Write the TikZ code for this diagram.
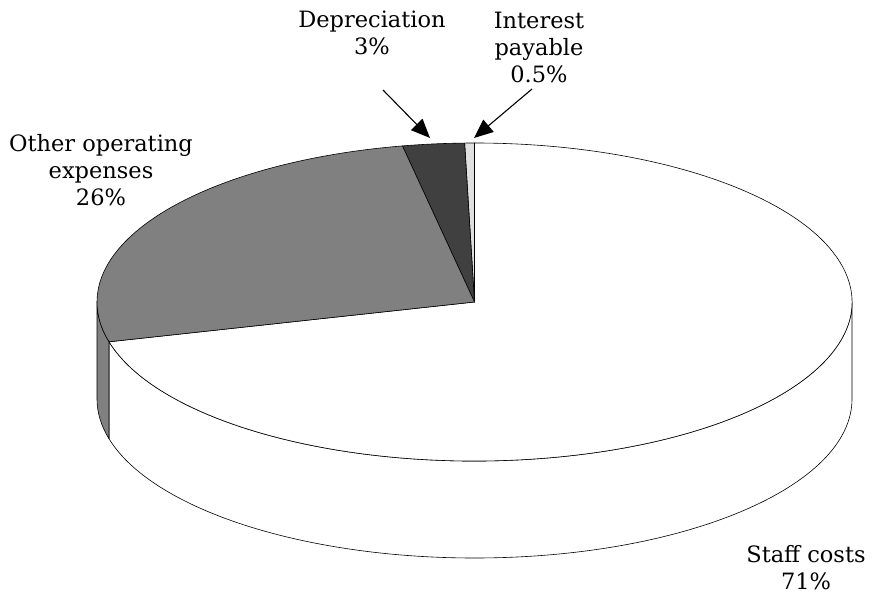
\documentclass[tikz,border=0pt]{standalone}
\usepackage{fontspec}
\setmainfont{DejaVu Serif}
\usetikzlibrary{arrows.meta}
\begin{document}
\begin{tikzpicture}[x=1pt,y=1pt,
slice/.style={draw=black,line width=0.6pt,line join=round},
rad/.style={x radius=377.5pt,y radius=159pt},
lbl/.style={align=center,font=\fontsize{22.5}{27}\selectfont,inner sep=0pt},
pointer/.style={-{Triangle[length=19pt,width=16pt]},line width=1.1pt}]
\useasboundingbox (0,0) rectangle (872,595);
\coordinate (o) at (474.5,293);

% side of the cake
\filldraw[slice,fill=white] (o) ++(194.5:377.5 and 159) arc[start angle=194.5,end angle=360,rad] -- ++(0,-97) arc[start angle=360,end angle=194.5,rad] -- cycle;
\filldraw[slice,fill=black!50] (o) ++(180:377.5 and 159) arc[start angle=180,end angle=194.5,rad] -- ++(0,-97) arc[start angle=194.5,end angle=180,rad] -- cycle;

% top face
\filldraw[slice,fill=white] (o) -- ++(-165.5:377.5 and 159) arc[start angle=-165.5,end angle=90,rad] -- cycle;
\filldraw[slice,fill=black!12] (o) -- ++(90:377.5 and 159) arc[start angle=90,end angle=91.5,rad] -- cycle;
\filldraw[slice,fill=black!75] (o) -- ++(91.5:377.5 and 159) arc[start angle=91.5,end angle=101,rad] -- cycle;
\filldraw[slice,fill=black!50] (o) -- ++(101:377.5 and 159) arc[start angle=101,end angle=194.5,rad] -- cycle;

\node[lbl] (other) at (101,425) {Other operating\\expenses\\26\%};
\node[lbl] (dep) at (372,562) {Depreciation\\3\%};
\node[lbl] (int) at (539,548) {Interest\\payable\\0.5\%};
\node[lbl] (staff) at (806,27) {Staff costs\\71\%};

\coordinate (depFrom) at (383,505);
\coordinate (depTip) at (430,457);
\coordinate (intFrom) at (532,506);
\coordinate (intTip) at (474,457);
\draw[pointer] (depFrom) -- (depTip);
\draw[pointer] (intFrom) -- (intTip);
\end{tikzpicture}
\end{document}
